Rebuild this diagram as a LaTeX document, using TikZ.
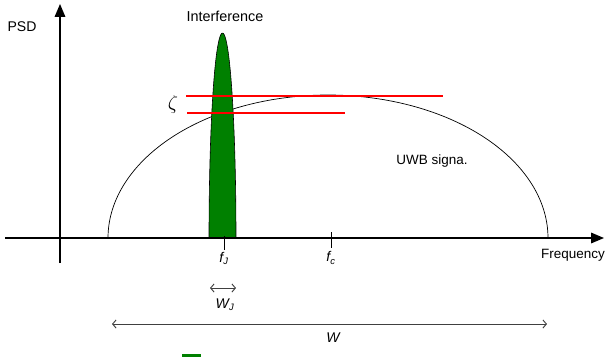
\documentclass[tikz,border=0pt]{standalone}
\usepackage{fontspec}
\setmainfont{Liberation Sans}
\usetikzlibrary{arrows.meta,positioning}
\definecolor{jamCol}{HTML}{008000}
\definecolor{zetaCol}{HTML}{FF0000}
\definecolor{spanCol}{HTML}{404040}
\tikzset{
  axis/.style={line width=1.2pt, -{Triangle[length=11pt,width=9pt]}},
  uwb/.style={line width=0.6pt},
  jam/.style={draw=black, line width=0.5pt, fill=jamCol},
  level/.style={draw=zetaCol, line width=1.6pt},
  tick/.style={line width=0.6pt},
  span/.style={spanCol, line width=0.8pt,
               {Straight Barb[length=3pt,width=7pt]}-{Straight Barb[length=3pt,width=7pt]}},
  lbl/.style={font=\fontsize{11.5}{13}\selectfont, inner sep=0pt},
  mlbl/.style={font=\fontsize{12}{14}\selectfont\itshape, inner sep=0pt},
}
\begin{document}
\begin{tikzpicture}[x=0.03cm,y=-0.03cm]
  \useasboundingbox (0,0) rectangle (607,356);
  \clip (0,0) rectangle (607,356);
  % axes
  \coordinate (xs) at (5,238);   \coordinate (xe) at (604,238);
  \coordinate (ys) at (60,263);  \coordinate (ye) at (60,4);
  % UWB spectrum
  \draw[uwb] plot[domain=0:180, samples=90, smooth] ({328-220*cos(\x)}, {238-143*sin(\x)});
  % interference
  \draw[jam] plot[domain=0:180, samples=60, smooth] ({222.5-13.5*cos(\x)}, {238-205*sin(\x)}) -- cycle;
  \fill[jamCol] (182,354) rectangle (201,360);
  \draw[axis] (xs) -- (xe);
  \draw[axis] (ys) -- (ye);
  % threshold lines
  \coordinate (z1a) at (186,96);  \coordinate (z1b) at (443,96);
  \coordinate (z2a) at (187,113); \coordinate (z2b) at (345,113);
  \draw[level] (z1a) -- (z1b);
  \draw[level] (z2a) -- (z2b);
  % ticks
  \draw[tick] (224,236) -- (224,250) coordinate (fJt);
  \draw[tick] (331,232) -- (331,248) coordinate (fct);
  % labels
  \node[lbl, font=\fontsize{12}{14}\selectfont] (psd) at (22,27) {PSD};
  \node[lbl, font=\fontsize{12.3}{14}\selectfont] (interf) at (225,16) {Interference};
  \node[lbl] (uwbl) at (432,161) {UWB signa.};
  \node[lbl, anchor=west] (freq) at (541,255) {Frequency};
  \node[inner sep=0pt] (zeta) at (173,104) {\fontsize{19}{21}\selectfont$\zeta$};
  \node[mlbl, below=2pt of fJt] (fJ) {f\textsubscript{J}};
  \node[mlbl, below=3pt of fct] (fc) {f\textsubscript{c}};
  % bandwidths
  \coordinate (wja) at (210,288); \coordinate (wjb) at (236,288);
  \draw[span] (wja) -- (wjb);
  \node[mlbl] (WJ) at (225,305) {W\textsubscript{J}};
  \coordinate (wa) at (112,324); \coordinate (wb) at (547,324);
  \draw[span] (wa) -- (wb);
  \node[mlbl] (W) at (333,338) {W};
\end{tikzpicture}
\end{document}
